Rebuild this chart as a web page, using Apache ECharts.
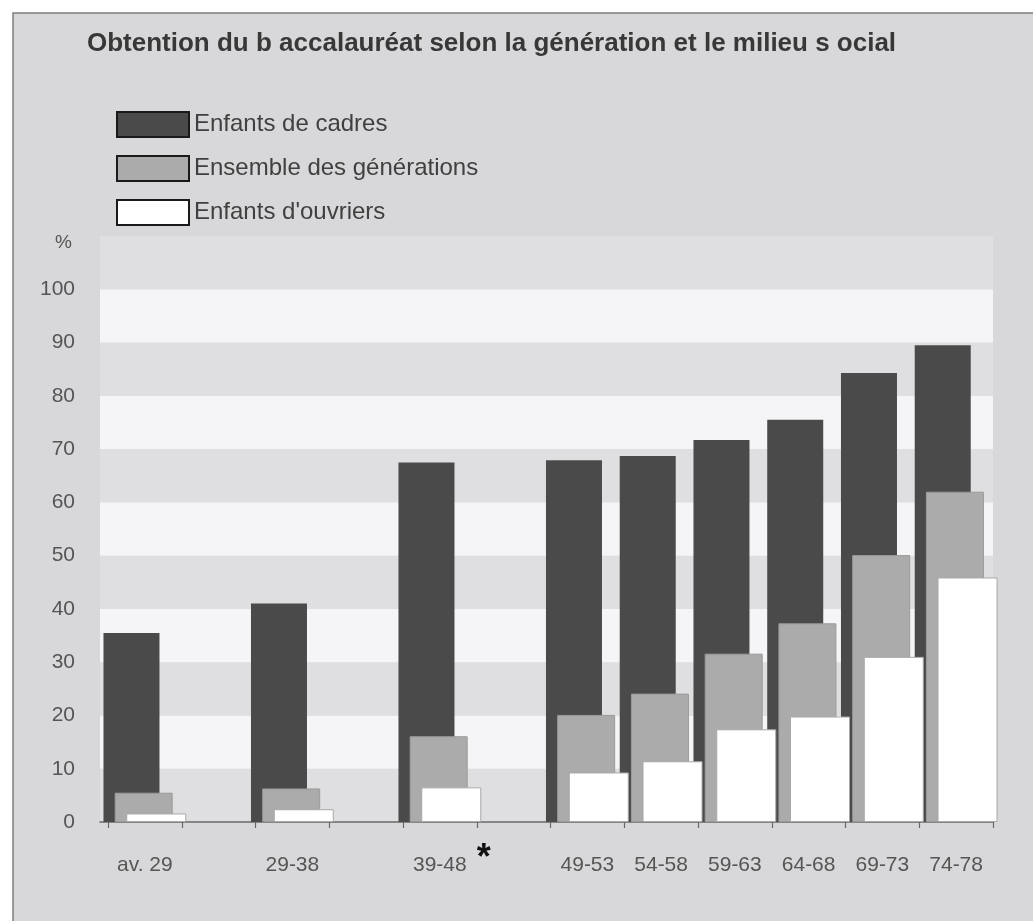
<!DOCTYPE html>
<html>
<head>
<meta charset="utf-8">
<script src="https://cdn.jsdelivr.net/npm/echarts@6/dist/echarts.min.js"></script>
<style>
  html, body { margin: 0; padding: 0; background: #ffffff; }
  #chart { width: 1033px; height: 921px; }
</style>
</head>
<body>
<div id="chart"></div>
<script>
// ---- data ----
const titleText = 'Obtention du b accalauréat selon la génération et le milieu s ocial';
const categories = ['av. 29', '', '29-38', '', '39-48', '', '49-53', '54-58', '59-63', '64-68', '69-73', '74-78'];
const seriesNames = ['Enfants de cadres', 'Ensemble des générations', "Enfants d'ouvriers"];
const cadres   = [35.5, null, 41.0, null, 67.5, null, 67.9, 68.7, 71.7, 75.5, 84.3, 89.5];
const ensemble = [5.5,  null, 6.3,  null, 16.1, null, 20.1, 24.1, 31.6, 37.3, 50.1, 62.0];
const ouvriers = [1.6,  null, 2.4,  null, 6.5,  null, 9.3,  11.4, 17.4, 19.8, 31.0, 45.9];
const yMin = 0, yMax = 110, yStep = 10;
const unitLabel = '%';
const starredCategory = '39-48';

// ---- chart ----
const FONT = "'Liberation Sans', Arial, sans-serif";
const chart = echarts.init(document.getElementById('chart'));

const option = {
  backgroundColor: '#ffffff',
  animation: false,
  textStyle: { fontFamily: FONT },
  graphic: [{
    type: 'rect', silent: true, z: -100,
    shape: { x: 13, y: 13, width: 1040, height: 940 },
    style: { fill: '#d8d8da', stroke: '#7d7d7d', lineWidth: 1.5 }
  }],
  title: {
    text: titleText,
    left: 87, top: 31, padding: 0,
    textStyle: { fontFamily: FONT, fontSize: 26, fontWeight: 'bold', color: '#383838' }
  },
  legend: {
    orient: 'vertical',
    left: 116, top: 111, padding: 0,
    itemWidth: 72, itemHeight: 25, itemGap: 17,
    icon: 'rect',
    selectedMode: false,
    textStyle: { fontFamily: FONT, fontSize: 24, color: '#404040' },
    data: seriesNames.map(n => ({ name: n, itemStyle: { borderColor: '#1a1a1a', borderWidth: 2 } }))
  },
  grid: [
    { left: 100, right: 40, top: 236, bottom: 99 },
    { left: 108, right: 40, top: 236, bottom: 99 }
  ],
  xAxis: [
    {
      gridIndex: 0, type: 'value', min: 0, max: 1,
      axisLine: { show: true, onZero: false, lineStyle: { color: '#6a6a6a', width: 1.5 } },
      axisTick: { show: false }, axisLabel: { show: false }, splitLine: { show: false }
    },
    {
      gridIndex: 1, type: 'category', data: categories,
      axisLine: { show: false },
      axisTick: { show: true, interval: 0, length: 6, lineStyle: { color: '#6a6a6a', width: 1.2 } },
      axisLabel: {
        interval: 0, margin: 30, fontSize: 21, lineHeight: 26, color: '#555555', fontFamily: FONT,
        formatter: function (v) {
          return v === starredCategory ? '{p| }{n|' + v + '}{s|*}' : v;
        },
        rich: {
          p: { width: 24, fontSize: 21, lineHeight: 26 },
          n: { fontSize: 21, lineHeight: 26, color: '#555555', fontFamily: FONT },
          s: { fontSize: 36, fontWeight: 'bold', color: '#111111', fontFamily: FONT,
               lineHeight: 4, padding: [0, 0, 12, 10] }
        }
      },
      splitLine: { show: false }
    }
  ],
  yAxis: [
    {
      gridIndex: 0, type: 'value', min: yMin, max: yMax, interval: yStep,
      axisLine: { show: false }, axisTick: { show: false },
      splitLine: { show: false },
      splitArea: { show: true, areaStyle: { color: ['#dfdfe1', '#f5f5f7'] } },
      axisLabel: {
        margin: 25, fontSize: 21, color: '#555555', fontFamily: FONT,
        formatter: function (v) { return v === yMax ? '{u|' + unitLabel + '}' : String(v); },
        rich: { u: { fontSize: 19, color: '#555555', fontFamily: FONT, padding: [14, 3, 0, 0] } }
      }
    },
    {
      gridIndex: 1, type: 'value', min: yMin, max: yMax, interval: yStep, show: false
    }
  ],
  series: [
    {
      name: seriesNames[0], type: 'bar', xAxisIndex: 1, yAxisIndex: 1, clip: false,
      data: cadres, barWidth: 56, barGap: '-80%',
      itemStyle: { color: '#4a4a4a' }
    },
    {
      name: seriesNames[1], type: 'bar', xAxisIndex: 1, yAxisIndex: 1, clip: false,
      data: ensemble, barWidth: 58, barGap: '-80%',
      itemStyle: { color: '#ababab', borderColor: '#9a9a9a', borderWidth: 1 }
    },
    {
      name: seriesNames[2], type: 'bar', xAxisIndex: 1, yAxisIndex: 1, clip: false,
      data: ouvriers, barWidth: 60, barGap: '-80%',
      itemStyle: { color: '#ffffff', borderColor: '#a8a8a8', borderWidth: 1 }
    }
  ]
};
chart.setOption(option);
</script>
</body>
</html>
